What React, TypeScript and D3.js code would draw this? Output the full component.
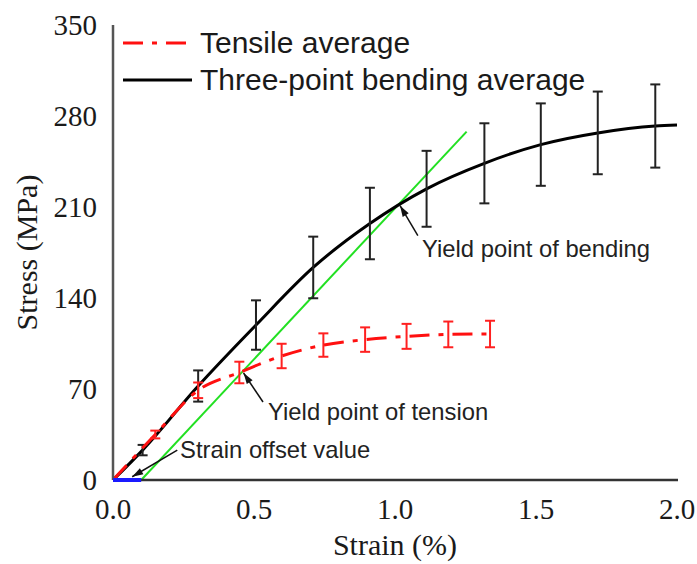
import React from "react";
import * as d3 from "d3";

const W = 697;
const H = 564;

// Tensile average (red, dash-dot)
const tensileStrain = [0, 0.15, 0.302, 0.448, 0.598, 0.746, 0.894, 1.041, 1.189, 1.337];
const tensileStress = [0, 35, 69, 82.7, 95.4, 103.8, 108, 110.5, 112, 112.3];
const tensileErr = [0, 3, 6, 8.3, 9.4, 9, 9.4, 9.6, 9.9, 10.2];

// Three-point bending average (black)
const bendStrain = [0, 0.105, 0.302, 0.507, 0.71, 0.911, 1.112, 1.317, 1.517, 1.719, 1.923, 2.0];
const bendStress = [0, 23, 72.3, 119.2, 163.5, 197.3, 224, 243.6, 258, 267, 272.3, 273];
const bendErr = [0, 4, 12, 19, 23.7, 27.5, 29.2, 30.8, 31.7, 31.8, 32, 0];
const bendHasBar = [false, true, true, true, true, true, true, true, true, true, true, false];

// 0.1% offset line (green) and offset segment (blue)
const offsetStrain = [0.1, 1.254];
const offsetStress = [0, 268];
const offsetSegStrain = [0, 0.1];

const xTicks = [0, 0.5, 1.0, 1.5, 2.0];
const yTicks = [0, 70, 140, 210, 280, 350];

const legendLabels = ["Tensile average", "Three-point bending average"];

// annotations in data coordinates
const annoText = ["Yield point of bending", "Yield point of tension", "Strain offset value"];
const annoTail = [[1.081, 188], [0.532, 60], [0.228, 23]];
const annoHead = [[1.018, 211], [0.463, 82.3], [0.068, 2.5]];
const annoPos = [[1.096, 171.5], [0.55, 46], [0.238, 17]];

const serif = "'Liberation Serif', 'Times New Roman', serif";
const sans = "'Liberation Sans', Arial, sans-serif";

export default function App() {
  const x = d3.scaleLinear().domain([0, 2]).range([113, 677]);
  const y = d3.scaleLinear().domain([0, 350]).range([480, 25]);

  const tensileLine = d3
    .line<number>()
    .x((_, i) => x(tensileStrain[i]))
    .y((d) => y(d))
    .curve(d3.curveMonotoneX)(tensileStress) as string;

  const bendLine = d3
    .line<number>()
    .x((_, i) => x(bendStrain[i]))
    .y((d) => y(d))
    .curve(d3.curveMonotoneX)(bendStress) as string;

  const cap = 5;

  const arrowHead = (hx: number, hy: number, tx: number, ty: number) => {
    const ang = Math.atan2(hy - ty, hx - tx);
    const L = 11;
    const w = 3.5;
    const bx = hx - L * Math.cos(ang);
    const by = hy - L * Math.sin(ang);
    const px = -Math.sin(ang);
    const py = Math.cos(ang);
    return `M${hx},${hy}L${bx + px * w},${by + py * w}L${bx - px * w},${by - py * w}Z`;
  };

  return (
    <svg
      width={W}
      height={H}
      style={{ position: "absolute", left: 0, top: 0, background: "#fff" }}
    >
      {/* green offset line */}
      <line
        x1={x(offsetStrain[0])}
        y1={y(offsetStress[0])}
        x2={x(offsetStrain[1])}
        y2={y(offsetStress[1])}
        stroke="#22e022"
        strokeWidth={2}
      />

      {/* bending curve */}
      <path d={bendLine} fill="none" stroke="#000" strokeWidth={3} />
      {bendStrain.map((s, i) =>
        bendHasBar[i] ? (
          <g key={"bb" + i} stroke="#222" strokeWidth={2}>
            <line x1={x(s)} x2={x(s)} y1={y(bendStress[i] - bendErr[i])} y2={y(bendStress[i] + bendErr[i])} />
            <line x1={x(s) - cap} x2={x(s) + cap} y1={y(bendStress[i] - bendErr[i])} y2={y(bendStress[i] - bendErr[i])} />
            <line x1={x(s) - cap} x2={x(s) + cap} y1={y(bendStress[i] + bendErr[i])} y2={y(bendStress[i] + bendErr[i])} />
          </g>
        ) : null
      )}

      {/* tensile curve */}
      <path d={tensileLine} fill="none" stroke="#ff1010" strokeWidth={3} strokeDasharray="20 9 5 9" />
      {tensileStrain.map((s, i) =>
        i > 0 ? (
          <g key={"tb" + i} stroke="#ff2020" strokeWidth={2}>
            <line x1={x(s)} x2={x(s)} y1={y(tensileStress[i] - tensileErr[i])} y2={y(tensileStress[i] + tensileErr[i])} />
            <line x1={x(s) - cap} x2={x(s) + cap} y1={y(tensileStress[i] - tensileErr[i])} y2={y(tensileStress[i] - tensileErr[i])} />
            <line x1={x(s) - cap} x2={x(s) + cap} y1={y(tensileStress[i] + tensileErr[i])} y2={y(tensileStress[i] + tensileErr[i])} />
          </g>
        ) : null
      )}

      {/* axes */}
      <line x1={x(0)} x2={x(0)} y1={y(350)} y2={y(0)} stroke="#555" strokeWidth={2.5} />
      <line x1={x(0)} x2={x(2) + 1} y1={y(0)} y2={y(0)} stroke="#333" strokeWidth={2.5} />

      {/* blue offset segment */}
      <line
        x1={x(offsetSegStrain[0])}
        x2={x(offsetSegStrain[1])}
        y1={y(0)}
        y2={y(0)}
        stroke="#1a1aff"
        strokeWidth={4}
      />

      {/* tick labels */}
      {yTicks.map((t) => (
        <text
          key={"y" + t}
          x={97}
          y={y(t)}
          textAnchor="end"
          dominantBaseline="central"
          fontFamily={serif}
          fontSize={29}
          fill="#1a1a1a"
        >
          {t}
        </text>
      ))}
      {xTicks.map((t) => (
        <text
          key={"x" + t}
          x={x(t)}
          y={519}
          textAnchor="middle"
          fontFamily={serif}
          fontSize={29}
          fill="#1a1a1a"
        >
          {t.toFixed(1)}
        </text>
      ))}

      {/* axis titles */}
      <text x={395} y={555} textAnchor="middle" fontFamily={serif} fontSize={30} fill="#1a1a1a">
        Strain (%)
      </text>
      <text
        transform={`translate(37,${(y(0) + y(350)) / 2}) rotate(-90)`}
        textAnchor="middle"
        fontFamily={serif}
        fontSize={30}
        fill="#1a1a1a"
      >
        Stress (MPa)
      </text>

      {/* legend */}
      <line x1={123} x2={187} y1={43} y2={43} stroke="#ff1010" strokeWidth={3} strokeDasharray="20 9 5 9" />
      <line x1={123} x2={192} y1={80} y2={80} stroke="#000" strokeWidth={3} />
      <text x={200} y={53} fontFamily={sans} fontSize={30} fill="#1a1a1a">
        {legendLabels[0]}
      </text>
      <text x={200} y={90} fontFamily={sans} fontSize={30} fill="#1a1a1a">
        {legendLabels[1]}
      </text>

      {/* annotations */}
      {annoText.map((t, i) => {
        const tx = x(annoTail[i][0]);
        const ty = y(annoTail[i][1]);
        const hx = x(annoHead[i][0]);
        const hy = y(annoHead[i][1]);
        return (
          <g key={"a" + i}>
            <line x1={tx} y1={ty} x2={hx} y2={hy} stroke="#111" strokeWidth={1.5} />
            <path d={arrowHead(hx, hy, tx, ty)} fill="#111" />
            <text
              x={x(annoPos[i][0])}
              y={y(annoPos[i][1])}
              fontFamily={sans}
              fontSize={23.8}
              fill="#222"
            >
              {t}
            </text>
          </g>
        );
      })}
    </svg>
  );
}
